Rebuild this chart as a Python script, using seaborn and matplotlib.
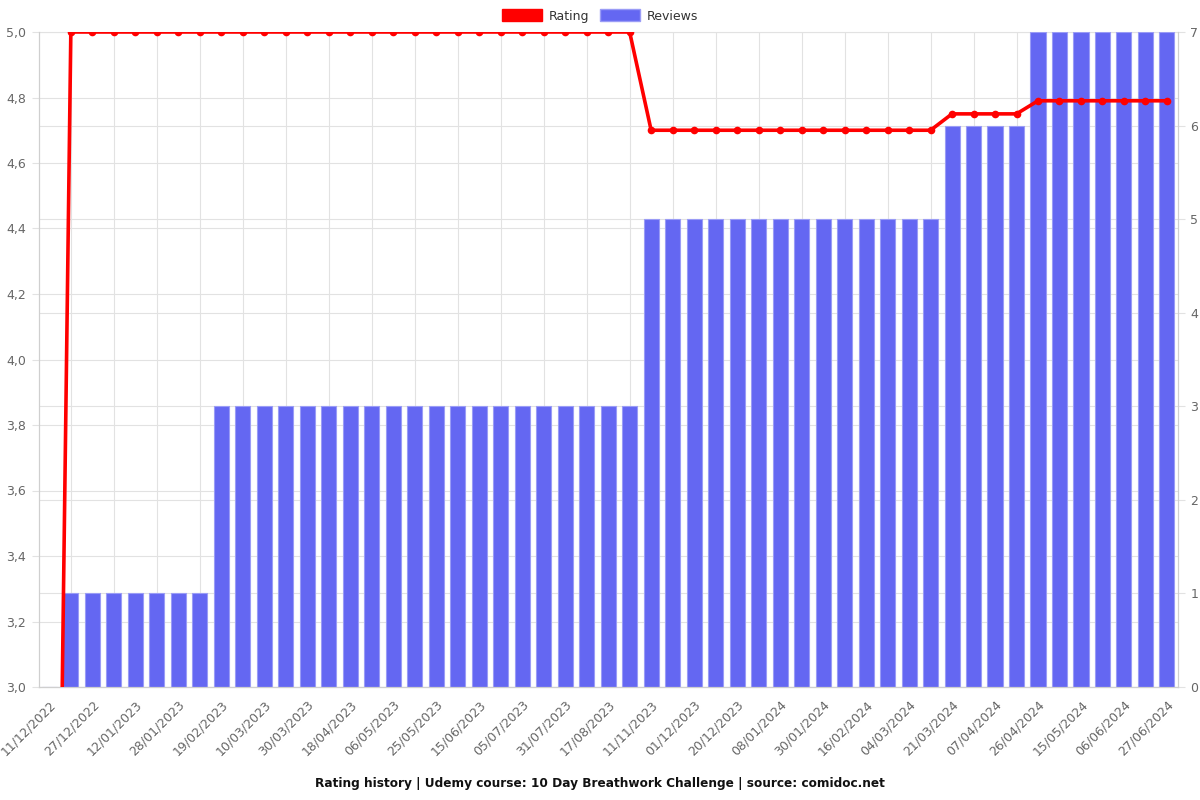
import matplotlib
matplotlib.use("Agg")
import matplotlib.pyplot as plt
import matplotlib.transforms as mtransforms
from matplotlib.patches import Patch
import seaborn as sns
import numpy as np

# ---- data ----
tick_labels = ["11/12/2022", "27/12/2022", "12/01/2023", "28/01/2023", "19/02/2023",
               "10/03/2023", "30/03/2023", "18/04/2023", "06/05/2023", "25/05/2023",
               "15/06/2023", "05/07/2023", "31/07/2023", "17/08/2023", "11/11/2023",
               "01/12/2023", "20/12/2023", "08/01/2024", "30/01/2024", "16/02/2024",
               "04/03/2024", "21/03/2024", "07/04/2024", "26/04/2024", "15/05/2024",
               "06/06/2024", "27/06/2024"]
# one entry per time step (53 steps; every second one is labelled)
reviews = [0] + [1] * 7 + [3] * 20 + [5] * 14 + [6] * 4 + [7] * 7
ratings = [0.0] + [5.0] * 27 + [4.70] * 14 + [4.75] * 4 + [4.79] * 7
rating_ticks = [3.0, 3.2, 3.4, 3.6, 3.8, 4.0, 4.2, 4.4, 4.6, 4.8, 5.0]
review_ticks = [0, 1, 2, 3, 4, 5, 6, 7]
title = "Rating history | Udemy course: 10 Day Breathwork Challenge | source: comidoc.net"

steps = list(range(len(reviews)))

sns.set_theme(style="white")
plt.rcParams['font.family'] = ['DejaVu Sans']

BAR = "#6467f2"
RED = "#ff0000"
GRID = "#e2e2e2"
TXT = "#666666"

fig = plt.figure(figsize=(12, 8), dpi=100)
ax = fig.add_axes([38.6 / 1200, 1 - 687 / 800, (1177.7 - 38.6) / 1200, (687 - 32) / 800])
ax2 = ax.twinx()

# bars (bottom axes, ticks on right)
sns.barplot(x=steps, y=reviews, ax=ax, color=BAR, width=0.7, saturation=1,
            edgecolor="#9a9cf6", linewidth=0.8, zorder=2)
ax.set_ylim(review_ticks[0], review_ticks[-1])
ax.set_xlim(-0.5, len(steps) - 0.5)
ax.set_yticks(review_ticks)
ax.yaxis.tick_right()
ax.set_ylabel("")
ax.set_xlabel("")

# line (top axes, ticks on left)
sns.lineplot(x=steps, y=ratings, ax=ax2, color=RED, linewidth=2.6, marker="o",
             markersize=5.5, markeredgewidth=0, zorder=3)
ax2.set_ylim(rating_ticks[0], rating_ticks[-1])
ax2.set_yticks(rating_ticks)
ax2.set_yticklabels([f"{v:.1f}".replace(".", ",") for v in rating_ticks])
ax2.yaxis.tick_left()
ax2.set_ylabel("")

# gridlines (all beneath the bars)
ax.set_axisbelow(True)
ax.yaxis.grid(True, color=GRID, linewidth=0.8, zorder=0)
blend = mtransforms.blended_transform_factory(ax.transAxes, ax2.transData)
for v in rating_ticks:
    ax.plot([0, 1], [v, v], transform=blend, color=GRID, linewidth=0.8, zorder=0.5,
            clip_on=False)

ax.set_xticks(steps[::2])
ax.set_xticklabels(tick_labels, rotation=45, ha="right", rotation_mode="anchor")
ax.set_xticks(steps[1::2], minor=True)
ax.xaxis.grid(True, which="minor", color=GRID, linewidth=0.8, zorder=0)
ax.xaxis.grid(False, which="major")
ax.tick_params(axis="x", which="major", length=0, pad=8, labelsize=9, labelcolor=TXT)
ax.tick_params(axis="x", which="minor", length=5, color=GRID, width=0.8)
ax.tick_params(axis="y", length=5, color=GRID, width=0.8, labelsize=9, labelcolor=TXT,
               right=True, left=False, pad=4)
ax2.tick_params(axis="y", length=5, color=GRID, width=0.8, labelsize=9, labelcolor=TXT,
                left=True, right=False, pad=4)

for a in (ax, ax2):
    a.spines["top"].set_visible(False)
    for s in ("left", "right", "bottom"):
        a.spines[s].set_color("#cfcfcf")
        a.spines[s].set_linewidth(0.8)

ax.set_zorder(1)
ax2.set_zorder(2)
ax2.patch.set_visible(False)

handles = [Patch(facecolor=RED, edgecolor=RED, label="Rating"),
           Patch(facecolor=BAR, edgecolor="#9a9cf6", label="Reviews")]
fig.legend(handles=handles, loc="center", bbox_to_anchor=(0.5, 1 - 16 / 800), ncol=2,
           frameon=False, fontsize=9, handlelength=3.2, handleheight=1.05,
           columnspacing=0.9, handletextpad=0.5, labelcolor="#333333")

fig.text(0.5, 1 - 783 / 800, title, ha="center", va="center", fontsize=8.7,
         fontweight="bold", color="#111111")

fig.savefig("out.png", dpi=100)
